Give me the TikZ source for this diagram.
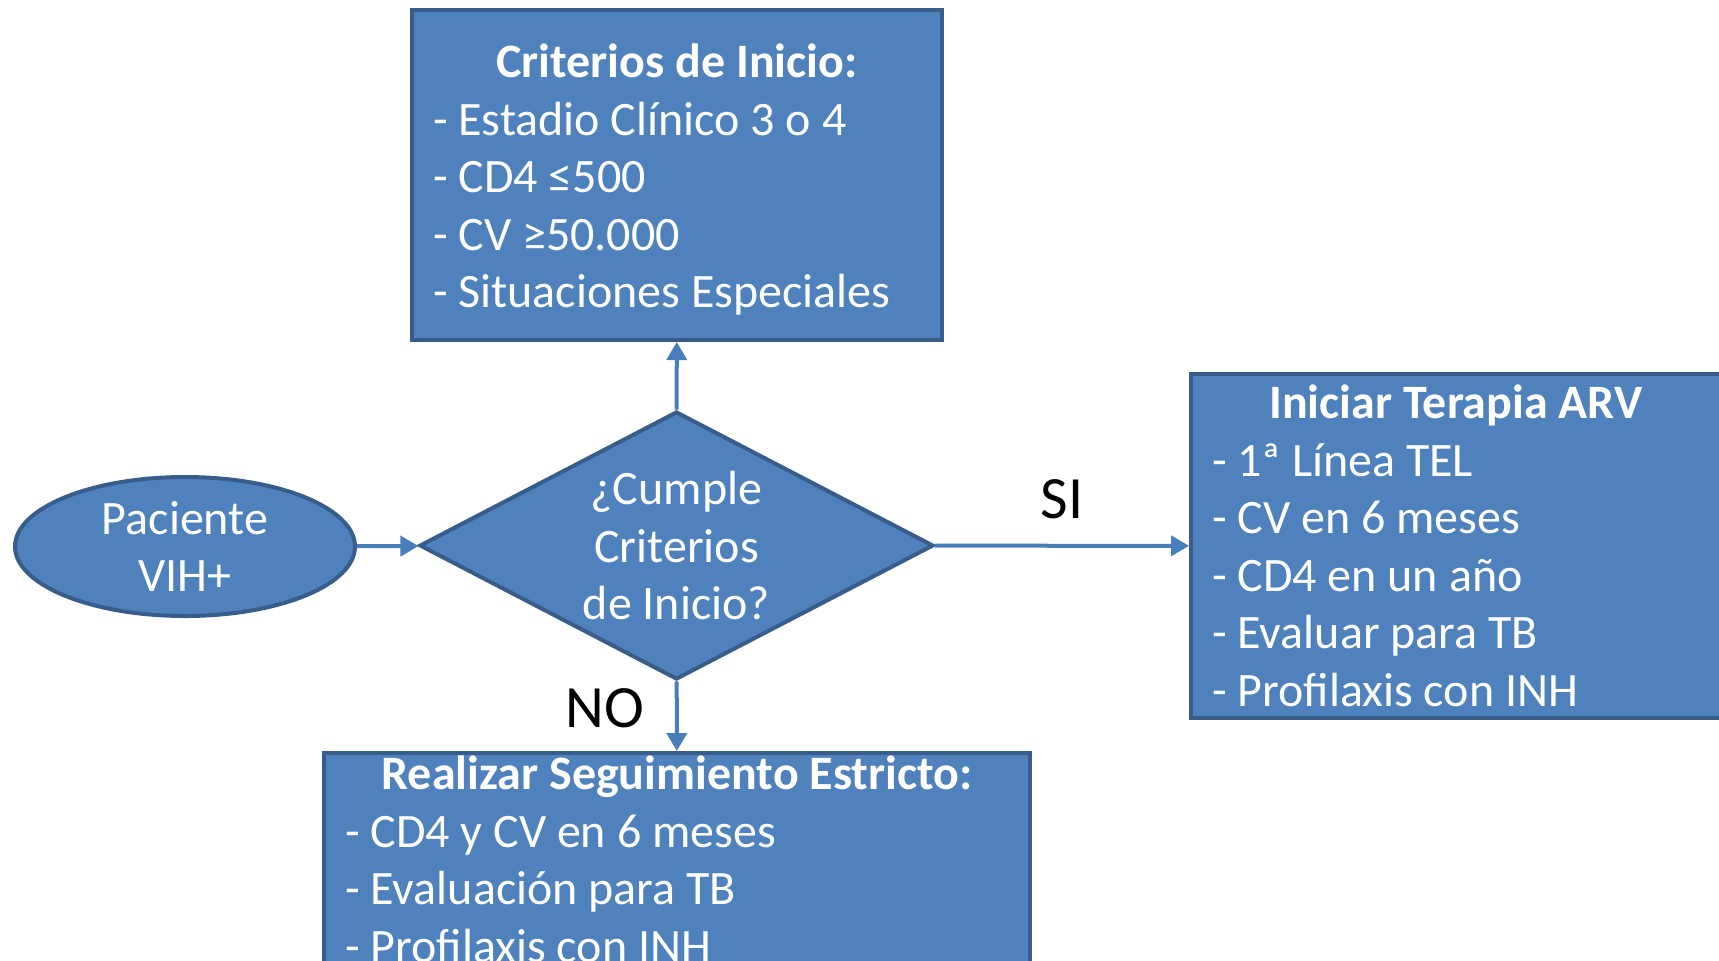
\documentclass[tikz,border=0pt]{standalone}
\usepackage{fontspec}
\setmainfont{Carlito}
\usetikzlibrary{shapes,arrows.meta}
\definecolor{boxfill}{HTML}{4F81BD}
\definecolor{boxdraw}{HTML}{385D8A}
\definecolor{arrowcol}{HTML}{4A7EBB}
\newcommand{\boxfont}{\fontsize{24pt}{28.75pt}\selectfont}
\newcommand{\boxtitle}[1]{{\centering\bfseries #1\par}}
\tikzstyle{block} = [rectangle, draw=boxdraw, fill=boxfill, line width=2pt,
text=white, font=\boxfont, align=flush left, inner xsep=10.5pt, inner ysep=1.5pt]
\tikzstyle{decision} = [diamond, draw=boxdraw, fill=boxfill, line width=2pt,
text=white, font=\boxfont, align=center, inner sep=0pt, aspect=1.9,
minimum width=257pt, minimum height=134pt]
\tikzstyle{start} = [ellipse, draw=boxdraw, fill=boxfill, line width=2pt,
text=white, font=\boxfont, align=center, inner sep=0pt,
minimum width=170pt, minimum height=69.5pt]
\tikzstyle{line} = [draw=arrowcol, line width=2pt, -{Triangle[length=9pt,width=10pt]}]
\tikzstyle{answer} = [font=\fontsize{30pt}{34pt}\selectfont, text=black]

\begin{document}
\begin{tikzpicture}[x=0.5pt, y=-0.5pt]
	\useasboundingbox (0,0) rectangle (1719,960);
	\clip (0,0) rectangle (1719,960);
	% Place nodes
	\node [start] (paciente) at (185,546.5) {};
	\node [font=\boxfont, text=white, align=center] (pacientetxt) at (paciente) {Paciente\\VIH+};
	\node [decision] (cumple) at (676.5,545.5) {¿Cumple\\Criterios\\de Inicio?};
	\node [block, text width=244pt, minimum height=165pt] (criterios) at (677,175)
		{\boxtitle{\rule{0pt}{21.5pt}Criterios de Inicio:}- Estadio Clínico 3 o 4\\- CD4 ≤500\\- CV ≥50.000\\- Situaciones Especiales};
	\node [block, text width=244pt, minimum height=172pt] (iniciar) at (1456,546)
		{\boxtitle{Iniciar Terapia ARV}- 1ª Línea TEL\\- CV en 6 meses\\- CD4 en un año\\- Evaluar para TB\\- Profilaxis con INH};
	\node [block, text width=332pt, anchor=north] (seguimiento) at (677,751)
		{\boxtitle{Realizar Seguimiento Estricto:}- CD4 y CV en 6 meses\\- Evaluación para TB\\- Profilaxis con INH};
	
	% Connect nodes
	\path [line] (paciente) -- (cumple);
	\path [line] (cumple) -- (criterios);
	\path [line] (cumple) -- node [answer, above=9pt] (si) {SI} (iniciar);
	\path [line] (cumple) -- node [answer, left=12pt, pos=0.38] (no) {NO} (seguimiento);
\end{tikzpicture}
\end{document}
